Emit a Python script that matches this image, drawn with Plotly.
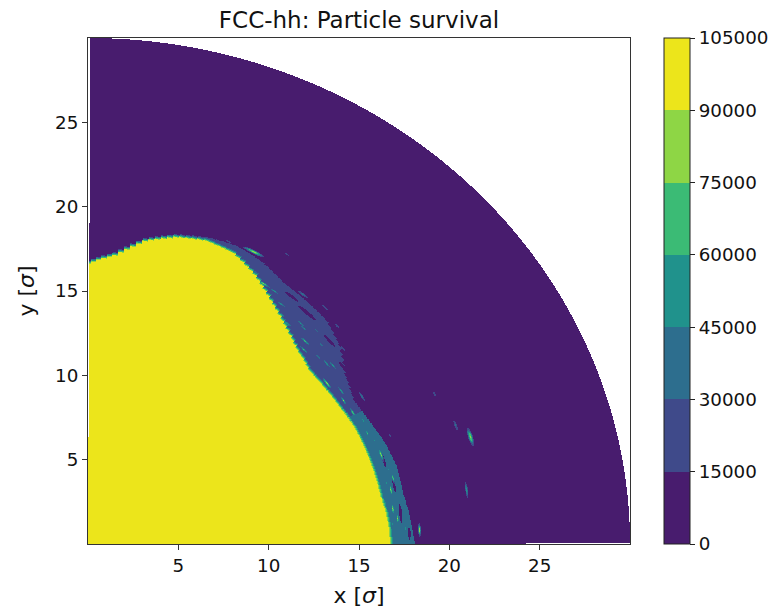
import numpy as np
import plotly.graph_objects as go

# ---------------- data ----------------
# survival (turns) of the fully stable core and of the chaotic fringe, per scan angle
angle_deg = [0, 5, 10, 15, 20, 25, 30, 35, 40, 45, 50, 55, 60, 65, 70, 75, 80, 85, 90]
core_radius = [16.7, 16.6, 16.4, 16.35, 16.3, 16.25, 16.1, 16.0, 15.95, 16.3, 16.9,
               17.6, 18.4, 19.0, 19.1, 18.8, 18.2, 17.15, 16.6]
fringe_radius = [18.1, 17.9, 17.7, 17.7, 17.5, 17.2, 17.0, 17.4, 18.2, 18.7, 18.8,
                 18.9, 19.3, 19.5, 19.35, 19.0, 18.35, 17.3, 16.7]
fringe_survival = [40000, 40000, 38000, 38000, 35000, 35000, 25000, 25000, 25000, 25000,
                   25000, 25000, 22000, 20000, 20000, 20000, 20000, 20000, 20000]
core_survival = 100000

# islands / streaks of partial survival: radius, angle, half length (deg), half width, peak survival
streak_r = [21.14, 21.53, 22.1, 21.2, 17.9, 18.37, 19.6, 19.55, 20.4,
            18.24, 18.99, 19.2, 18.9, 18.26, 16.3, 17.06, 17.33, 17.07, 16.9,
            17.3, 17.6, 17.0, 16.9, 17.5, 17.2, 16.7, 17.6, 18.6, 16.6, 17.5,
            17.2, 17.6, 17.0,
            16.9, 17.5, 17.2, 17.0, 16.8, 17.6, 16.9, 17.1, 17.8, 18.2, 16.6,
            17.0, 17.9, 17.5, 18.9, 19.3, 18.7, 17.9, 16.5]
streak_theta = [24.9, 19.1, 16.7, 8.7, 21.0, 2.6, 62.1, 66.6, 57.3,
                57.9, 51.2, 47.0, 43.2, 39.4, 35.8, 18.1, 13.1, 10.8, 25.6,
                52.0, 48.0, 45.0, 41.0, 42.5, 38.0, 33.0, 55.0, 60.0, 28.0, 30.0,
                5.0, 3.0, 7.0,
                4.0, 8.0, 15.0, 21.0, 23.0, 1.5, 12.5, 50.0, 53.0, 55.5, 44.0,
                39.0, 45.0, 47.0, 63.5, 68.0, 71.0, 58.5, 31.0]
streak_halflen = [0.9, 1.3, 1.7, 1.7, 0.7, 1.5, 2.3, 1.0, 0.8,
                  2.2, 1.6, 1.4, 1.2, 1.2, 2.0, 1.8, 1.6, 1.5, 1.4,
                  1.8, 1.6, 1.8, 1.6, 1.4, 1.7, 1.6, 1.8, 1.6, 1.7, 1.4,
                  1.6, 1.4, 1.6,
                  1.4, 1.6, 1.4, 1.5, 1.3, 1.4, 1.4, 1.9, 1.7, 1.6, 1.6,
                  1.6, 1.5, 1.4, 1.6, 1.2, 1.4, 1.6, 1.4]
streak_halfwidth = [0.10, 0.11, 0.16, 0.10, 0.08, 0.10, 0.13, 0.09, 0.09,
                    0.12, 0.11, 0.11, 0.10, 0.10, 0.12, 0.12, 0.10, 0.10, 0.10,
                    0.11, 0.11, 0.11, 0.09, 0.09, 0.11, 0.09, 0.11, 0.09, 0.11, 0.09,
                    0.11, 0.09, 0.11,
                    0.09, 0.09, 0.09, 0.09, 0.09, 0.09, 0.09, 0.11, 0.11, 0.09, 0.09,
                    0.09, 0.09, 0.09, 0.08, 0.08, 0.08, 0.09, 0.09]
streak_peak = [28000, 40000, 92000, 60000, 28000, 95000, 95000, 28000, 28000,
               80000, 40000, 28000, 28000, 28000, 90000, 92000, 80000, 95000, 60000,
               60000, 55000, 70000, 50000, 45000, 60000, 65000, 50000, 45000, 75000, 50000,
               85000, 60000, 90000,
               55000, 55000, 58000, 55000, 70000, 55000, 60000, 65000, 55000, 60000, 70000,
               62000, 42000, 58000, 40000, 28000, 40000, 55000, 80000]

# low-survival gaps inside the fringe: radius, angle, half length (deg), half width
gap_r = [17.4, 17.1, 17.3, 18.3, 18.0, 18.5, 17.6, 18.0, 17.8]
gap_theta = [6.0, 17.0, 11.5, 48.5, 42.0, 52.5, 36.5, 58.0, 2.0]
gap_halflen = [1.8, 1.5, 1.3, 2.0, 1.5, 1.5, 1.4, 1.6, 1.2]
gap_halfwidth = [0.08, 0.07, 0.07, 0.1, 0.08, 0.08, 0.08, 0.08, 0.07]

levels = [0, 15000, 30000, 45000, 60000, 75000, 90000, 105000]
band_colors = ['#481c6e', '#3f4a8a', '#2d6e8e', '#20928c', '#3bbb75', '#8ed645', '#ece51b']

# ---------------- rasterise the polar scan ----------------
nx, ny = 542, 506
xs = (np.arange(nx) + 0.5) * 30.0 / nx
ys = (np.arange(ny) + 0.5) * 30.0 / ny
X, Y = np.meshgrid(xs, ys)
R = np.hypot(X, Y)
TH = np.degrees(np.arctan2(Y, X))
THq = np.round(TH)  # scan rows 1 degree apart

core = np.interp(THq, angle_deg, core_radius)
outer = np.interp(THq, angle_deg, fringe_radius)
base = np.interp(THq, angle_deg, fringe_survival)

ramp = 0.2
Z = np.zeros_like(R)
Z = np.where(R < core, core_survival, Z)
inramp = (R >= core) & (R < core + ramp)
Z = np.where(inramp, core_survival + (base - core_survival) * (R - core) / ramp, Z)
infr = (R >= core + ramp) & (R < outer)
Z = np.where(infr, base, Z)

for r0, t0, hl, hw in zip(gap_r, gap_theta, gap_halflen, gap_halfwidth):
    d = np.sqrt(((TH - t0) / hl) ** 2 + ((R - r0) / hw) ** 2)
    Z = np.where((d < 1) & (R > core + ramp), np.minimum(Z, 5000), Z)

for r0, t0, hl, hw, pk in zip(streak_r, streak_theta, streak_halflen, streak_halfwidth, streak_peak):
    d = np.sqrt(((TH - t0) / hl) ** 2 + ((R - r0) / hw) ** 2)
    Z = np.maximum(Z, np.where(d < 1, pk * (1 - d), 0))

Zq = (np.floor(np.clip(Z, 0, 104999) / 15000) + 0.5) * 15000
mask = (R > 30) | (TH > 89.75) | (TH < 0.07)
Zq = np.where(mask, np.nan, Zq)

nb = len(band_colors)
colorscale = []
for k, c in enumerate(band_colors):
    colorscale.append([k / nb, c])
    colorscale.append([(k + 1) / nb, c])

FONT = "DejaVu Sans"
fig = go.Figure()
fig.add_trace(go.Heatmap(
    x=xs, y=ys, z=Zq,
    zmin=levels[0], zmax=levels[-1],
    colorscale=colorscale, zsmooth=False, hoverinfo='skip',
    colorbar=dict(
        x=(664 - 88) / 542, xanchor='left', xpad=0, ypad=0,
        y=0.5, yanchor='middle', len=1, lenmode='fraction',
        thickness=26, outlinewidth=1, outlinecolor='#222',
        tickvals=levels, ticktext=[str(v) for v in levels],
        ticks='outside', ticklen=5, tickwidth=1, tickcolor='#222',
        tickfont=dict(family=FONT, size=18.3, color='#111'),
    ),
))

axis_common = dict(
    showgrid=False, zeroline=False, showline=True, mirror=True, automargin=False,
    linecolor='#333', linewidth=1, ticks='outside', ticklen=5, tickwidth=1,
    tickcolor='#333', tickfont=dict(family=FONT, size=18.3, color='#111'),
    tickvals=[5, 10, 15, 20, 25],
)
fig.update_layout(
    width=781, height=608,
    margin=dict(l=88, r=151, t=38, b=64),
    paper_bgcolor='white', plot_bgcolor='white',
    title=dict(text='FCC-hh: Particle survival', x=0.5, xref='paper', xanchor='center',
               y=1 - 20 / 608, yref='container', yanchor='middle',
               font=dict(family=FONT, size=23, color='#111')),
    xaxis=dict(range=[0, 30], title=dict(text='x [<i>σ</i>]', standoff=12,
                                          font=dict(family=FONT, size=22, color='#111')),
               **axis_common),
    yaxis=dict(range=[0, 30], title=dict(text='y [<i>σ</i>]', standoff=14,
                                          font=dict(family=FONT, size=22, color='#111')),
               **axis_common),
)
fig.write_html("out.html")
